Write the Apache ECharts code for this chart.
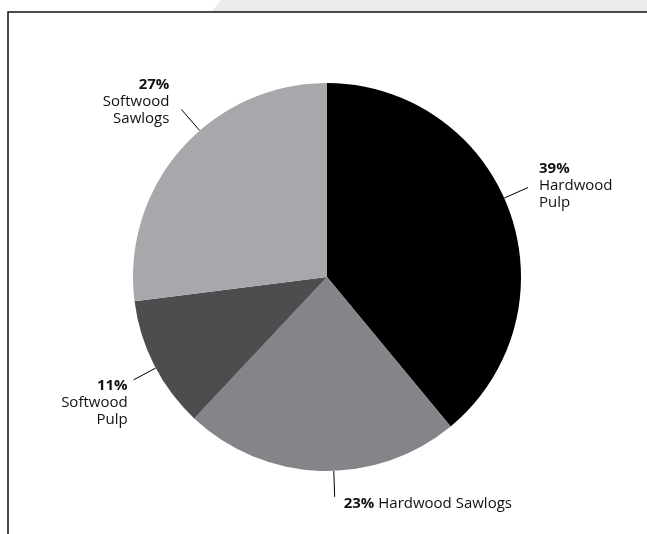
<!DOCTYPE html>
<html>
<head>
<meta charset="utf-8">
<script src="https://cdn.jsdelivr.net/npm/echarts@6/dist/echarts.min.js"></script>
<style>
  html, body { margin: 0; padding: 0; background: #fff; }
  #chart { width: 647px; height: 534px; }
</style>
</head>
<body>
<div id="chart"></div>
<script>
// Pulpwood and sawlog shares, clockwise from 12 o'clock
const categories = ['Hardwood Pulp', 'Hardwood Sawlogs', 'Softwood Pulp', 'Softwood Sawlogs'];
const shares = [39, 23, 11, 27];
const labelLines = [['Hardwood', 'Pulp'], ['Hardwood Sawlogs'], ['Softwood', 'Pulp'], ['Softwood', 'Sawlogs']];
const sliceColors = ['#000000', '#848588', '#4d4d4f', '#a7a8ab'];

// pie geometry (px)
const CX = 327, CY = 277, R = 194;

// leader lines: rim angle (deg clockwise from 12 o'clock), length, label offset from line end
const leaders = [
  { angle: 66,  len: 26, dx: 11,  dy: -2, align: 'left' },
  { angle: 178, len: 26, dx: 9,   dy: 7,  align: 'left' },
  { angle: 242, len: 25, dx: -6,  dy: 23, align: 'right' },
  { angle: 319, len: 28, dx: -12, dy: -8, align: 'right' }
];

const FONT = '"Open Sans", "Noto Sans", sans-serif';

function labelText(i) {
  const side = leaders[i].align === 'right' ? 'R' : 'L';
  const pct = '{p' + side + '|' + shares[i] + '%}';
  const lines = labelLines[i];
  if (lines.length === 1) {
    return pct + '{n' + side + '| ' + lines[0] + '}';
  }
  return [pct].concat(lines.map(t => '{n' + side + '|' + t + '}')).join('\n');
}

const chart = echarts.init(document.getElementById('chart'), null, { renderer: 'canvas' });

const TEXT = '#111111';

chart.setOption({
  animation: false,
  backgroundColor: '#ffffff',
  textStyle: { fontFamily: FONT },
  graphic: [
    {
      type: 'polygon',
      silent: true,
      shape: { points: [[212, 11], [221, 0], [647, 0], [647, 11]] },
      style: { fill: '#ececec' }
    },
    {
      type: 'polyline',
      silent: true,
      shape: { points: [[8, 534], [8, 12], [647, 12]] },
      style: { stroke: '#111111', lineWidth: 1.5, fill: null }
    }
  ],
  series: [{
    type: 'pie',
    center: [CX, CY],
    radius: R,
    startAngle: 90,
    clockwise: true,
    silent: true,
    emphasis: { disabled: true },
    itemStyle: { borderWidth: 0 },
    data: categories.map((name, i) => ({
      name: name,
      value: shares[i],
      itemStyle: { color: sliceColors[i] }
    })),
    label: {
      show: true,
      position: 'outside',
      formatter: p => labelText(p.dataIndex),
      color: TEXT,
      fontFamily: FONT,
      rich: {
        pL: { fontSize: 15, fontWeight: 'bold', lineHeight: 17, color: TEXT, align: 'left', fontFamily: FONT },
        nL: { fontSize: 15, lineHeight: 17, color: TEXT, align: 'left', fontFamily: FONT },
        pR: { fontSize: 15, fontWeight: 'bold', lineHeight: 17, color: TEXT, align: 'right', fontFamily: FONT },
        nR: { fontSize: 15, lineHeight: 17, color: TEXT, align: 'right', fontFamily: FONT }
      }
    },
    labelLine: {
      show: true,
      length: 20,
      length2: 0,
      smooth: false,
      lineStyle: { color: '#000000', width: 1 }
    },
    labelLayout: function (p) {
      const L = leaders[p.dataIndex];
      const a = L.angle * Math.PI / 180;
      const sx = CX + R * Math.sin(a), sy = CY - R * Math.cos(a);
      const ex = CX + (R + L.len) * Math.sin(a), ey = CY - (R + L.len) * Math.cos(a);
      return {
        x: ex + L.dx,
        y: ey + L.dy,
        align: L.align,
        verticalAlign: 'middle',
        labelLinePoints: [[sx, sy], [ex, ey], [ex, ey]]
      };
    }
  }]
});
</script>
</body>
</html>
